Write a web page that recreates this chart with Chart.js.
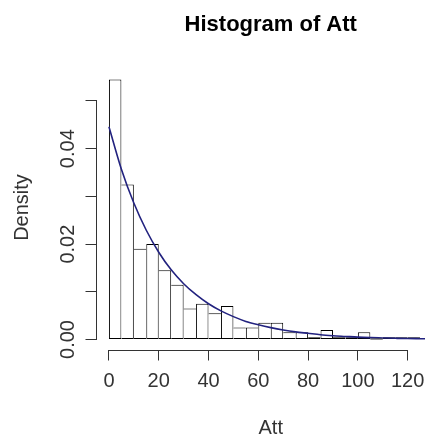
<html>
  <head>
    <title>Histogram of Att</title>
    <script src="https://cdn.jsdelivr.net/npm/chart.js"></script>
    <style type="text/css">
      html, body { margin: 0; padding: 0; background: #ffffff; overflow: hidden; }
      canvas { display: block; }
    </style>
  </head>
  <body>
    <canvas id="hist" width="445" height="441"></canvas>
    <script>
      // bins are 5 wide, bars sit on their centres
      var binMids = [2.5, 7.5, 12.5, 17.5, 22.5, 27.5, 32.5, 37.5, 42.5, 47.5,
                     52.5, 57.5, 62.5, 67.5, 72.5, 77.5, 82.5, 87.5, 92.5, 97.5,
                     102.5, 107.5, 112.5, 117.5, 122.5];
      var density = [0.0545, 0.0325, 0.019, 0.020, 0.0145, 0.0115, 0.0065, 0.0075, 0.0055, 0.007,
                     0.0025, 0.0025, 0.0035, 0.0035, 0.0015, 0.0015, 0.0005, 0.002, 0.0005, 0.0005,
                     0.0015, 0, 0.0005, 0.0005, 0.0005];

      var curveX = [0, 5, 10, 15, 20, 25, 30, 35, 40, 45, 50, 55, 60, 65,
                    70, 75, 80, 85, 90, 95, 100, 105, 110, 115, 120, 125, 130, 135];
      var curveY = [0.0446, 0.0357, 0.0286, 0.0229, 0.0183, 0.0146, 0.0117, 0.0094, 0.0075, 0.0060,
                    0.0048, 0.0038, 0.0031, 0.0025, 0.0020, 0.0016, 0.0013, 0.0010, 0.0008, 0.00065,
                    0.0005, 0.0004, 0.00033, 0.00026, 0.0002, 0.00017, 0.00014, 0.00011];

      var xTicks = [0, 20, 40, 60, 80, 100, 120];
      var yTicks = [0, 0.01, 0.02, 0.03, 0.04, 0.05];
      var yTickLabels = ['0.00', '', '0.02', '', '0.04', ''];

      var FONT = 'Liberation Sans, Arial, sans-serif';

      function align(v) { return Math.round(v - 0.5) + 0.5; }

      // a shared edge is drawn once, by the taller of the two bars
      function barBorder(c) {
        var i = c.dataIndex, h = density[i], n = density.length;
        return {
          top: 1,
          bottom: 1,
          left: (i === 0 || h >= density[i - 1]) ? 1 : 0,
          right: (i === n - 1 || h > density[i + 1]) ? 1 : 0
        };
      }

      // R style: axis lines only span first..last tick, y labels turned upright
      var rAxes = {
        id: 'rAxes',
        afterDraw: function(chart) {
          var ctx = chart.ctx, xs = chart.scales.x, ys = chart.scales.y;
          var xl = align(ys.right), yb = align(xs.top);
          ctx.save();
          ctx.strokeStyle = '#333';
          ctx.lineWidth = 1;
          ctx.beginPath();
          ctx.moveTo(xl, align(ys.getPixelForValue(yTicks[0])) + 0.5);
          ctx.lineTo(xl, align(ys.getPixelForValue(yTicks[yTicks.length - 1])) - 0.5);
          ctx.moveTo(align(xs.getPixelForValue(xTicks[0])) - 0.5, yb);
          ctx.lineTo(align(xs.getPixelForValue(xTicks[xTicks.length - 1])) + 0.5, yb);
          // empty bins still show their bottom edge in R
          density.forEach(function(d, i) {
            if (d > 0) return;
            var y0 = ys.getPixelForValue(0);
            ctx.moveTo(xs.getPixelForValue(binMids[i] - 2.5), y0 - 0.5);
            ctx.lineTo(xs.getPixelForValue(binMids[i] + 2.5), y0 - 0.5);
          });
          ctx.stroke();

          ctx.fillStyle = '#333';
          ctx.font = '20px ' + FONT;
          ctx.textAlign = 'center';
          ctx.textBaseline = 'middle';
          yTicks.forEach(function(v, i) {
            if (!yTickLabels[i]) return;
            ctx.save();
            ctx.translate(ys.right - 28.5, ys.getPixelForValue(v));
            ctx.rotate(-Math.PI / 2);
            ctx.fillText(yTickLabels[i], 0, 0);
            ctx.restore();
          });
          ctx.save();
          ctx.translate(22.5, (chart.chartArea.top + chart.chartArea.bottom) / 2 - 2);
          ctx.rotate(-Math.PI / 2);
          ctx.fillText('Density', 0, 0);
          ctx.restore();
          ctx.restore();
        }
      };

      new Chart(document.getElementById('hist'), {
        type: 'bar',
        data: {
          datasets: [
            {
              type: 'line',
              data: curveX.map(function(x, i) { return {x: x, y: curveY[i]}; }),
              borderColor: '#22227f',
              borderWidth: 1.6,
              pointRadius: 0,
              cubicInterpolationMode: 'monotone',
              fill: false,
              order: 0
            },
            {
              type: 'bar',
              data: binMids.map(function(x, i) { return {x: x, y: density[i]}; }),
              backgroundColor: '#ffffff',
              borderColor: '#000000',
              borderWidth: barBorder,
              borderSkipped: false,
              barPercentage: 1,
              categoryPercentage: 1,
              inflateAmount: 0,
              order: 1
            }
          ]
        },
        options: {
          responsive: false,
          animation: false,
          devicePixelRatio: 1,
          layout: { padding: 0 },
          plugins: {
            legend: { display: false },
            tooltip: { enabled: false },
            title: {
              display: true,
              text: 'Histogram of Att',
              fullSize: false,
              color: '#000',
              font: { family: FONT, size: 22, weight: 'bold' },
              padding: { top: 11.5, bottom: 30.6 }
            }
          },
          scales: {
            x: {
              type: 'linear',
              min: -5,
              max: 135,
              offset: false,
              afterBuildTicks: function(s) { s.ticks = xTicks.map(function(v) { return {value: v}; }); },
              afterFit: function(s) { s.height = 90.5; },
              grid: { offset: false, drawOnChartArea: false, tickLength: 10, color: '#333', lineWidth: 1 },
              border: { display: false },
              ticks: { color: '#333', padding: 8.5, maxRotation: 0, autoSkip: false,
                       font: { family: FONT, size: 20 } },
              title: { display: true, text: 'Att', color: '#333',
                       font: { family: FONT, size: 20 }, padding: { top: 0, bottom: 1 } }
            },
            y: {
              min: -0.0023,
              max: 0.0568,
              afterBuildTicks: function(s) { s.ticks = yTicks.map(function(v) { return {value: v}; }); },
              afterFit: function(s) { s.width = 96.5; },
              grid: { drawOnChartArea: false, tickLength: 11, color: '#333', lineWidth: 1 },
              border: { display: false },
              ticks: { display: false },
              title: { display: false }
            }
          }
        },
        plugins: [rAxes]
      });
    </script>
  </body>
</html>
